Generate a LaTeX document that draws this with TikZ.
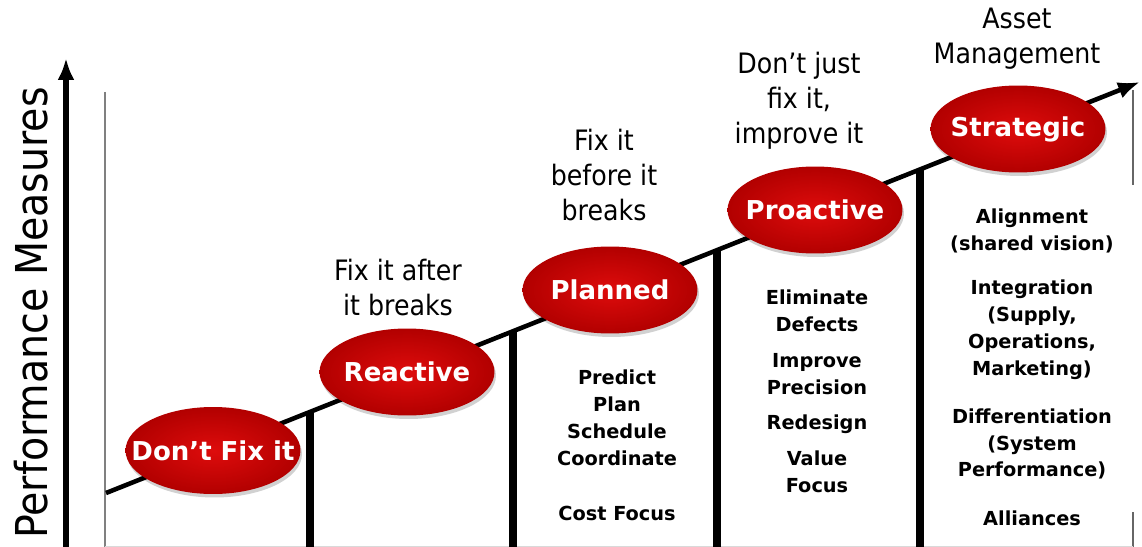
\documentclass[tikz,border=0pt]{standalone}
\usepackage{fontspec}
\setmainfont{DejaVu Sans}
\newfontfamily\narrowfont{DejaVu Sans}[FakeStretch=0.9]
\usetikzlibrary{shapes.geometric, shadows}
\usetikzlibrary{arrows.meta}
\tikzset{>={Latex[width=3.4mm,length=4.4mm]}}
\definecolor{stagelight}{RGB}{222,12,12}
\definecolor{stagedark}{RGB}{178,0,0}
\tikzset{
  stage/.style={ellipse, minimum width=3.5cm, minimum height=1.74cm, inner sep=0pt,
    inner color=stagelight, outer color=stagedark,
    drop shadow={fill=black, opacity=0.18, shadow xshift=0.3mm, shadow yshift=-0.7mm},
    text=white, font=\fontsize{14.8}{18}\selectfont\bfseries,
    execute at begin node={\hbox to 0pt\bgroup\hss},
    execute at end node={\hss\egroup}},
  motto/.style={align=center, inner sep=0pt, font=\narrowfont\fontsize{16}{19.8}\selectfont},
  practice/.style={align=center, inner sep=0pt, font=\fontsize{11}{15.3}\selectfont\bfseries},
  riser/.style={line width=5pt},
}

\begin{document}
\begin{tikzpicture}[x=0.02cm, y=-0.02cm]
    \useasboundingbox (0,0) rectangle (1142,547);
    % frame
    \draw[gray, line width=1.6pt] (105,92) -- (105,547);
    \draw[gray!80!black, line width=1pt] (1133,90) -- (1133,185);
    \draw[gray!80!black, line width=1pt] (1133,512) -- (1133,547);
    \draw[gray!30, line width=1pt] (105,546.5) -- (1133,546.5);
    % axis
    \coordinate (yfoot) at (66,547);
    \coordinate (ytip) at (66,58);
    \draw[->, line width=3pt] (yfoot) -- (ytip);
    \node[rotate=90, inner sep=0pt, font=\narrowfont\fontsize{25}{30}\selectfont] (ylabel) at (31,313) {Performance Measures};
    % rising line
    \coordinate (start) at (106,493);
    \coordinate (finish) at (1140,82);
    \draw[->, line width=2.6pt] (start) -- (finish);
    % risers
    \coordinate (top1) at (310,411.9);
    \coordinate (top2) at (513,331.2);
    \coordinate (top3) at (717,250.1);
    \coordinate (top4) at (920,169.4);
    \coordinate (foot1) at (310,547);
    \coordinate (foot2) at (513,547);
    \coordinate (foot3) at (717,547);
    \coordinate (foot4) at (920,547);
    \draw[riser] (top1) -- (foot1);
    \draw[riser] (top2) -- (foot2);
    \draw[riser] (top3) -- (foot3);
    \draw[riser] (top4) -- (foot4);
    % stages
    \node[stage] (dontfix) at (213,450.5) {Don’t Fix it};
    \node[stage] (reactive) at (407,372) {Reactive};
    \node[stage] (planned) at (610,290) {Planned};
    \node[stage] (proactive) at (815,210) {Proactive};
    \node[stage] (strategic) at (1018,129) {Strategic};
    % mottos
    \node[motto] (afterbreak) at (398,287.5) {Fix it after\\it breaks};
    \node[motto] (beforebreak) at (604,175) {Fix it\\before it\\breaks};
    \node[motto] (improve) at (799,100.5) {Don’t just\\fix it,\\improve it};
    \node[motto] (asset) at (1017,38.5) {Asset\\Management};
    % practices
    \node[practice] (plannedlist) at (617,418) {Predict\\Plan\\Schedule\\Coordinate};
    \node[practice] (costfocus) at (617,513) {Cost Focus};
    \node[practice] (defects) at (817,311) {Eliminate\\Defects};
    \node[practice] (precision) at (817,374) {Improve\\Precision};
    \node[practice] (redesign) at (817,424) {Redesign};
    \node[practice] (valuefocus) at (817,472) {Value\\Focus};
    \node[practice] (alignment) at (1032,230.5) {Alignment\\(shared vision)};
    \node[practice] (integration) at (1032,330) {Integration\\(Supply,\\Operations,\\Marketing)};
    \node[practice] (differentiation) at (1032,444) {Differentiation\\(System\\Performance)};
    \node[practice] (alliances) at (1032,518) {Alliances};
  \end{tikzpicture}
\end{document}
